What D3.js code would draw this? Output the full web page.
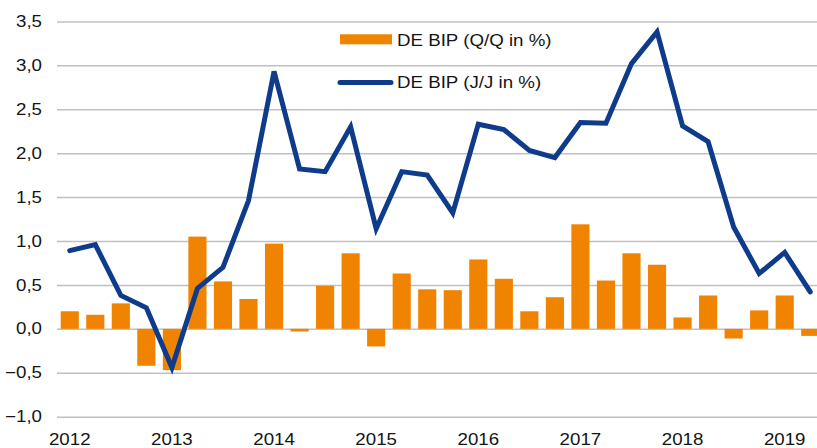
<!DOCTYPE html>
<html>
<head>
<meta charset="utf-8">
<script src="https://cdn.jsdelivr.net/npm/d3@7"></script>
<style>
  html, body { margin: 0; padding: 0; background: #fff; }
  svg { display: block; font-family: "Liberation Sans", Arial, sans-serif; }
</style>
</head>
<body>
<svg id="chart" width="817" height="448"></svg>
<script>
const quarters = [
  "2012Q1","2012Q2","2012Q3","2012Q4",
  "2013Q1","2013Q2","2013Q3","2013Q4",
  "2014Q1","2014Q2","2014Q3","2014Q4",
  "2015Q1","2015Q2","2015Q3","2015Q4",
  "2016Q1","2016Q2","2016Q3","2016Q4",
  "2017Q1","2017Q2","2017Q3","2017Q4",
  "2018Q1","2018Q2","2018Q3","2018Q4",
  "2019Q1","2019Q2"
];
const qoq = [
  0.20, 0.16, 0.29, -0.42,
  -0.47, 1.05, 0.54, 0.34,
  0.97, -0.03, 0.49, 0.86,
  -0.20, 0.63, 0.45, 0.44,
  0.79, 0.57, 0.20, 0.36,
  1.19, 0.55, 0.86, 0.73,
  0.13, 0.38, -0.11, 0.21,
  0.38, -0.08
];
const yoy = [
  0.89, 0.96, 0.38, 0.24,
  -0.44, 0.46, 0.70, 1.46,
  2.93, 1.82, 1.79, 2.30,
  1.14, 1.79, 1.75, 1.32,
  2.33, 2.27, 2.03, 1.95,
  2.35, 2.34, 3.02, 3.38,
  2.31, 2.13, 1.16, 0.63,
  0.87, 0.42
];
const yTicks = [-1.0, -0.5, 0.0, 0.5, 1.0, 1.5, 2.0, 2.5, 3.0, 3.5];
const yearLabels = ["2012","2013","2014","2015","2016","2017","2018","2019"];
const legendLabels = ["DE BIP (Q/Q in %)", "DE BIP (J/J in %)"];

const orange = "#F08300";
const blue = "#0E3C8B";
const textColor = "#141414";
const sx = 1.17; // horizontal stretch of text as in the reference

const svg = d3.select("#chart");
const W = 817;

const x = d3.scaleBand().domain(quarters).range([57, 823]).paddingInner(0.29).paddingOuter(0.145);
const y = d3.scaleLinear().domain([-1, 3.5]).range([416.7, 21.4]);

// gridlines + y labels
const yAxis = d3.axisLeft(y).tickValues(yTicks)
  .tickSize(-(W - 57))
  .tickPadding(15)
  .tickFormat(d => d3.format(".1f")(d).replace(".", ","));
const gy = svg.append("g").attr("transform", "translate(57,0)").call(yAxis);
gy.select(".domain").remove();
gy.selectAll(".tick line").attr("stroke", "#c0c0c0").attr("stroke-width", 1.5);
gy.selectAll(".tick text").attr("font-size", 16).attr("fill", textColor)
  .attr("font-family", "Liberation Sans, Arial, sans-serif")
  .attr("x", -15 / sx)
  .attr("transform", `scale(${sx},1)`);

// bars
svg.append("g").selectAll("rect").data(quarters).join("rect")
  .attr("x", d => x(d))
  .attr("width", x.bandwidth())
  .attr("y", (d, i) => y(Math.max(0, qoq[i])))
  .attr("height", (d, i) => Math.abs(y(qoq[i]) - y(0)))
  .attr("fill", orange);

// line
const line = d3.line()
  .x((d, i) => x(quarters[i]) + x.bandwidth() / 2)
  .y(d => y(d));
svg.append("path").datum(yoy)
  .attr("d", line)
  .attr("fill", "none")
  .attr("stroke", blue)
  .attr("stroke-width", 5)
  .attr("stroke-linejoin", "miter")
  .attr("stroke-linecap", "round");

// x axis labels (years at Q1)
const xAxis = d3.axisBottom(x)
  .tickValues(yearLabels.map(yr => yr + "Q1"))
  .tickSize(0)
  .tickPadding(0)
  .tickFormat(d => d.slice(0, 4));
const gx = svg.append("g").attr("transform", "translate(0,430)").call(xAxis);
gx.select(".domain").remove();
gx.selectAll(".tick text").attr("font-size", 16).attr("fill", textColor)
  .attr("dy", "0.95em")
  .attr("font-family", "Liberation Sans, Arial, sans-serif")
  .attr("transform", `scale(${sx},1)`);

// legend
const lg = svg.append("g");
lg.append("rect").attr("x", 340).attr("y", 34.3).attr("width", 52).attr("height", 10).attr("fill", orange);
lg.append("text").attr("transform", `translate(397,45.7) scale(${sx},1)`)
  .attr("font-size", 16).attr("fill", textColor).text(legendLabels[0]);
lg.append("line").attr("x1", 340).attr("x2", 391).attr("y1", 82.5).attr("y2", 82.5)
  .attr("stroke", blue).attr("stroke-width", 5).attr("stroke-linecap", "round");
lg.append("text").attr("transform", `translate(397,88.3) scale(${sx},1)`)
  .attr("font-size", 16).attr("fill", textColor).text(legendLabels[1]);
</script>
</body>
</html>
